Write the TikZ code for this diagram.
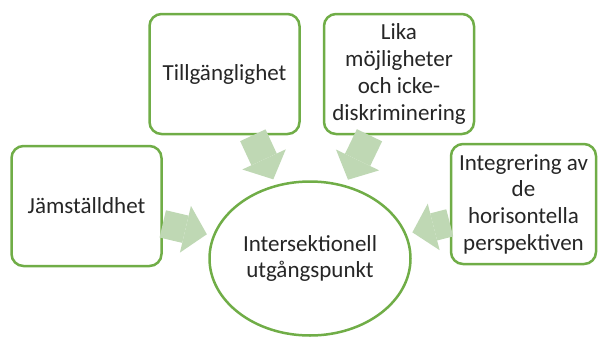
\documentclass[tikz,border=0pt]{standalone}
\usepackage{fontspec}
\setmainfont{Carlito}
\usetikzlibrary{arrows.meta,shapes.geometric}
\definecolor{boxgreen}{HTML}{70AD47}
\definecolor{arrowgreen}{HTML}{BFD8B4}
\definecolor{textgray}{HTML}{262626}
\tikzset{
	box/.style={draw=boxgreen, line width=2.5pt, rounded corners=12pt, fill=white,
		minimum width=150pt, minimum height=120pt, align=center, text=textgray,
		font=\fontsize{23}{26.7}\selectfont, inner sep=2pt},
	hub/.style={ellipse, draw=boxgreen, line width=2.5pt, fill=white,
		minimum width=201pt, minimum height=154pt, align=center, text=textgray,
		font=\fontsize{23}{26.7}\selectfont, inner sep=0pt},
	flow/.style={arrowgreen, line width=28pt,
		-{Triangle[length=22pt, width=48pt, line width=0pt]}, shorten >=6pt}
}

\begin{document}
\begin{tikzpicture}[x=1pt, y=-1pt]
			%%%%% START %%%%%
			\useasboundingbox (0, 0) rectangle (598, 338);
			
			\node[hub] (centre) at (310, 258.5) {Intersektionell\\utgångspunkt};
			
			\node[box] (jamstalldhet) at (86.5, 206) {Jämställdhet};
			\node[box] (tillganglighet) at (224.5, 74) {Tillgänglighet};
			\node[box] (lika) at (399, 74) {Lika\\möjligheter\\och icke-\\diskriminering};
			\node[box, minimum width=145pt] (integrering) at (523.5, 204) {Integrering av\\de\\horisontella\\perspektiven};
			
			\draw[flow] (jamstalldhet) -- (centre);
			\draw[flow] (tillganglighet) -- (centre);
			\draw[flow] (lika) -- (centre);
			\draw[flow] (integrering) -- (centre);
			
			%%%%% END %%%%%
\end{tikzpicture}
\end{document}
